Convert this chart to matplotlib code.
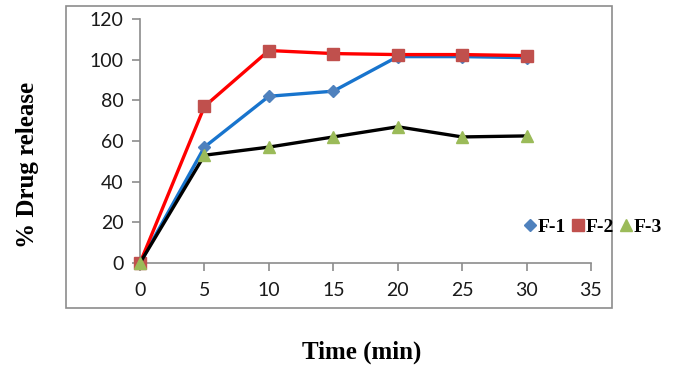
import matplotlib
matplotlib.use("Agg")
import matplotlib.pyplot as plt
from matplotlib.lines import Line2D
from matplotlib.patches import Rectangle

time_min = [0, 5, 10, 15, 20, 25, 30]
f1 = [0, 57, 82, 84.5, 101.5, 101.5, 101]
f2 = [0, 77, 104.5, 103, 102.5, 102.5, 102]
f3 = [0, 53, 57, 62, 67, 62, 62.5]
series_names = ["F-1", "F-2", "F-3"]
x_ticks = [0, 5, 10, 15, 20, 25, 30, 35]
y_ticks = [0, 20, 40, 60, 80, 100, 120]

fig = plt.figure(figsize=(7, 3.76), dpi=100)
fig.patches.append(Rectangle((66/700, 1-308/376), 546/700, 302/376, transform=fig.transFigure,
                             fill=False, edgecolor="#8c8c8c", linewidth=1.2))
ax = fig.add_axes([140/700, 1-263/376, 451/700, 244/376])

ax.plot(time_min, f1, color="#1874CD", linewidth=2.4, marker="D", markersize=6,
        markerfacecolor="#4F81BD", markeredgecolor="#4F81BD", zorder=3)
ax.plot(time_min, f2, color="#FF0000", linewidth=2.4, marker="s", markersize=8,
        markerfacecolor="#C0504D", markeredgecolor="#C0504D", zorder=4)
ax.plot(time_min, f3, color="#000000", linewidth=2.4, marker="^", markersize=8,
        markerfacecolor="#9BBB59", markeredgecolor="#9BBB59", zorder=5)

ax.set_xlim(0, 35)
ax.set_ylim(0, 120)
ax.set_xticks(x_ticks)
ax.set_yticks(y_ticks)
for s in ["top", "right"]:
    ax.spines[s].set_visible(False)
for s in ["left", "bottom"]:
    ax.spines[s].set_color("#8c8c8c")
    ax.spines[s].set_linewidth(1.2)
ax.tick_params(axis="both", direction="out", length=6, color="#8c8c8c", width=1.2,
               labelsize=14, labelcolor="#1a1a1a")
ax.tick_params(axis="x", pad=8)
ax.tick_params(axis="y", pad=6)
for lab in ax.get_xticklabels() + ax.get_yticklabels():
    lab.set_fontfamily("Lato")
for l in ax.lines:
    l.set_clip_on(False)

fig.text(28/700, 1-165/376, "% Drug release", rotation=90, ha="center", va="center",
         fontsize=18, fontweight="bold", family="Liberation Serif")
fig.text(362/700, 1-352/376, "Time (min)", ha="center", va="center",
         fontsize=18, fontweight="bold", family="Liberation Serif")

handles = [
    Line2D([], [], linestyle="none", marker="D", markersize=6, color="#4F81BD"),
    Line2D([], [], linestyle="none", marker="s", markersize=9, color="#C0504D"),
    Line2D([], [], linestyle="none", marker="^", markersize=9, color="#9BBB59"),
]
fig.legend(handles, series_names, loc="center", bbox_to_anchor=(593/700, 1-227/376), ncol=3,
           frameon=False, handlelength=0.6, handletextpad=0.1, columnspacing=0.3,
           prop={"family": "Liberation Serif", "weight": "bold", "size": 14})

fig.savefig("out.png", dpi=100)
